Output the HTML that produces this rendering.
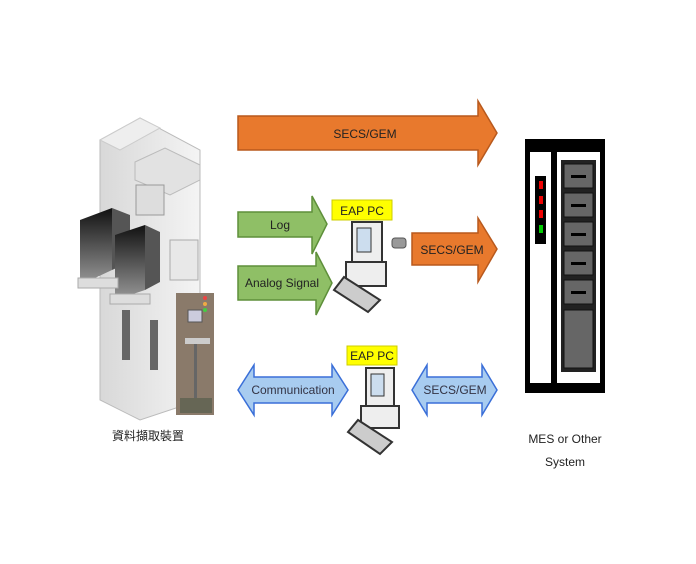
<!DOCTYPE html>
<html><head><style>
html,body{margin:0;padding:0;background:#fff;}
svg{display:block;}
text{font-family:"Liberation Sans","Noto Sans CJK TC",sans-serif;}
</style></head><body>
<svg width="696" height="564" viewBox="0 0 696 564" xmlns="http://www.w3.org/2000/svg">
<defs>
<linearGradient id="cab" x1="0" y1="0" x2="1" y2="0"><stop offset="0" stop-color="#d8d8d8"/><stop offset="1" stop-color="#f4f4f4"/></linearGradient>
<linearGradient id="dark" x1="0" y1="0" x2="0" y2="1"><stop offset="0" stop-color="#111"/><stop offset="1" stop-color="#999"/></linearGradient>
</defs>
<!-- machine -->
<polygon points="100,140 140,118 200,150 200,400 140,420 100,400" fill="url(#cab)" stroke="#bbb"/>
<polygon points="100,140 140,118 160,128 120,150" fill="#eee" stroke="#ccc"/>
<polygon points="135,162 165,148 200,165 200,180 170,195 135,180" fill="#e2e2e2" stroke="#bbb"/>
<rect x="136" y="185" width="28" height="30" fill="#ddd" stroke="#999"/>
<rect x="170" y="240" width="28" height="40" fill="#e8e8e8" stroke="#aaa"/>
<polygon points="80,220 112,208 112,270 80,285" fill="url(#dark)"/>
<polygon points="112,208 130,215 130,262 112,270" fill="#555"/>
<polygon points="115,235 145,225 145,290 115,300" fill="url(#dark)"/>
<polygon points="145,225 160,232 160,282 145,290" fill="#555"/>
<rect x="78" y="278" width="40" height="10" fill="#ddd" stroke="#aaa"/>
<rect x="110" y="294" width="40" height="10" fill="#ddd" stroke="#aaa"/>
<rect x="122" y="310" width="8" height="50" fill="#666"/>
<rect x="150" y="320" width="8" height="50" fill="#666"/>
<rect x="176" y="293" width="38" height="122" fill="#8a7a6a"/>
<rect x="188" y="310" width="14" height="12" fill="#ccd" stroke="#555"/>
<rect x="185" y="338" width="25" height="6" fill="#ccc"/>
<circle cx="205" cy="298" r="2" fill="#e44"/><circle cx="205" cy="304" r="2" fill="#ea4"/><circle cx="205" cy="310" r="2" fill="#4c4"/>
<rect x="194" y="344" width="3" height="55" fill="#666"/>
<rect x="180" y="398" width="32" height="15" fill="#665"/>
<text x="148" y="440" font-size="12" text-anchor="middle" fill="#222">資料擷取裝置</text>

<!-- top orange arrow -->
<polygon points="238,116 478,116 478,101 497,133 478,165 478,150 238,150" fill="#e8792d" stroke="#b8591d" stroke-width="1.5"/>
<text x="365" y="138" font-size="12" text-anchor="middle" fill="#222">SECS/GEM</text>

<!-- green arrows -->
<polygon points="238,212 312,212 312,196 327,224 312,254 312,237 238,237" fill="#8fbf66" stroke="#5e8f3a" stroke-width="1.5"/>
<text x="280" y="229" font-size="12" text-anchor="middle" fill="#222">Log</text>
<polygon points="238,266 316,266 316,252 332,283 316,315 316,300 238,300" fill="#8fbf66" stroke="#5e8f3a" stroke-width="1.5"/>
<text x="282" y="287" font-size="12" text-anchor="middle" fill="#222">Analog Signal</text>

<!-- EAP PC 1 -->
<rect x="332" y="200" width="60" height="20" fill="#ffff00" stroke="#cc0"/>
<text x="362" y="215" font-size="12" text-anchor="middle" fill="#222">EAP PC</text>
<g transform="translate(352,222)">
<rect x="0" y="0" width="30" height="40" fill="#eee" stroke="#333" stroke-width="2"/>
<rect x="5" y="6" width="14" height="24" fill="#cde" stroke="#333"/>
<rect x="-6" y="40" width="40" height="24" fill="#eee" stroke="#333" stroke-width="2"/>
<polygon points="-18,68 -8,55 28,78 16,90" fill="#ccc" stroke="#333" stroke-width="2"/>
</g>
<rect x="392" y="238" width="14" height="10" rx="3" fill="#999" stroke="#555"/>
<!-- small orange -->
<polygon points="412,233 478,233 478,218 497,249 478,282 478,265 412,265" fill="#e8792d" stroke="#b8591d" stroke-width="1.5"/>
<text x="452" y="254" font-size="12" text-anchor="middle" fill="#222">SECS/GEM</text>

<!-- blue arrows -->
<polygon points="238,390 254,365 254,377 332,377 332,365 348,390 332,415 332,403 254,403 254,415" fill="#a8ccf0" stroke="#3a6fd8" stroke-width="1.5"/>
<text x="293" y="394" font-size="12" text-anchor="middle" fill="#334">Communication</text>
<polygon points="412,390 427,365 427,377 482,377 482,365 497,390 482,415 482,403 427,403 427,415" fill="#a8ccf0" stroke="#3a6fd8" stroke-width="1.5"/>
<text x="455" y="394" font-size="12" text-anchor="middle" fill="#334">SECS/GEM</text>

<!-- EAP PC 2 -->
<rect x="347" y="346" width="50" height="19" fill="#ffff00" stroke="#cc0"/>
<text x="372" y="360" font-size="12" text-anchor="middle" fill="#222">EAP PC</text>
<g transform="translate(366,368)">
<rect x="0" y="0" width="28" height="38" fill="#eee" stroke="#333" stroke-width="2"/>
<rect x="5" y="6" width="13" height="22" fill="#cde" stroke="#333"/>
<rect x="-5" y="38" width="38" height="22" fill="#eee" stroke="#333" stroke-width="2"/>
<polygon points="-18,64 -8,52 26,74 14,86" fill="#ccc" stroke="#333" stroke-width="2"/>
</g>

<!-- server -->
<rect x="525" y="139" width="80" height="254" fill="#000"/>
<rect x="530" y="152" width="21" height="231" fill="#fff"/>
<rect x="557" y="152" width="43" height="231" fill="#fff"/>
<rect x="535" y="176" width="11" height="68" fill="#000"/>
<rect x="539" y="181" width="4" height="8" fill="#e00"/>
<rect x="539" y="196" width="4" height="8" fill="#e00"/>
<rect x="539" y="210" width="4" height="8" fill="#e00"/>
<rect x="539" y="225" width="4" height="8" fill="#0c0"/>
<rect x="561" y="160" width="35" height="212" fill="#222"/>
<g fill="#666" stroke="#111">
<rect x="564" y="164" width="29" height="24"/><rect x="564" y="193" width="29" height="24"/><rect x="564" y="222" width="29" height="24"/><rect x="564" y="251" width="29" height="24"/><rect x="564" y="280" width="29" height="24"/><rect x="564" y="310" width="29" height="58"/>
</g>
<g fill="#000"><rect x="571" y="175" width="15" height="3"/><rect x="571" y="204" width="15" height="3"/><rect x="571" y="233" width="15" height="3"/><rect x="571" y="262" width="15" height="3"/><rect x="571" y="291" width="15" height="3"/></g>
<text x="565" y="443" font-size="12" text-anchor="middle" fill="#222">MES or Other</text>
<text x="565" y="466" font-size="12" text-anchor="middle" fill="#222">System</text>
</svg>
</body></html>
